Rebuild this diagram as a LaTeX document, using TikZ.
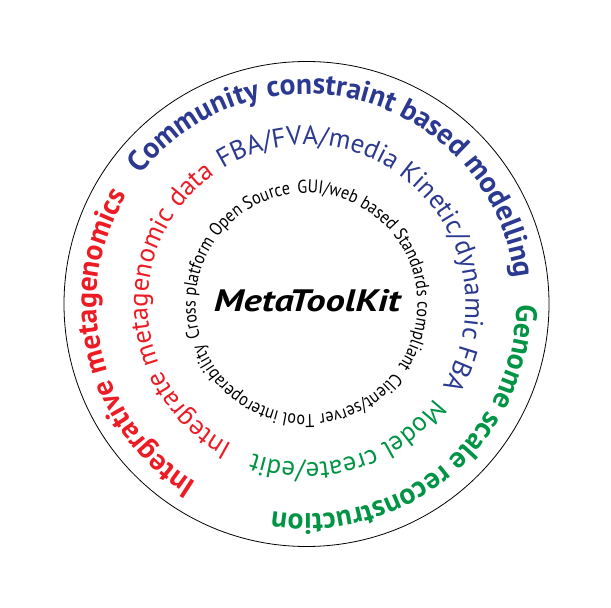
\documentclass[tikz,border=0pt]{standalone}
\usepackage{fontspec}
\setmainfont{PT Sans}
\newfontfamily\condfont[FakeStretch=0.87]{PT Sans}
\newfontfamily\widefont[FakeStretch=1.25]{PT Sans}
\usetikzlibrary{decorations.text}
\definecolor{mtkblue}{RGB}{43,57,144}
\definecolor{mtkred}{RGB}{237,28,36}
\definecolor{mtkgreen}{RGB}{0,148,68}
\tikzset{
  ring/.style={draw, circle, line width=.8pt, minimum size=485pt, inner sep=0pt},
  title/.style={font=\widefont\bfseries\itshape\fontsize{31}{31}\selectfont},
}
% outer, middle and inner ring fonts
\newcommand{\outerfont}{\bfseries\fontsize{29.5}{29.5}\selectfont}
\newcommand{\midfont}{\fontsize{26.8}{26.8}\selectfont}
\newcommand{\innerfont}{\condfont\fontsize{18.5}{18.5}\selectfont}
% text centred on a clockwise arc: radius, middle angle, format, text
\newcommand{\arclabel}[4]{%
  \path[decorate, decoration={text along path, text align=center, text={|#3|#4}}]
    (disk.center) ++({#2+100}:#1) arc[start angle={#2+100}, end angle={#2-100}, radius=#1];
}

\begin{document}
\begin{tikzpicture}[x=1pt,y=1pt]
  \useasboundingbox (0,0) rectangle (611,608);
  \node[ring] (disk) at (306.5,304) {};
  \node[title] (mtk) at (307,307) {MetaToolKit};

  % outer ring
  \arclabel{210}{74.5}{\outerfont\color{mtkblue}}{Community constraint based modelling}
  \arclabel{210}{-49.75}{\outerfont\color{mtkgreen}}{Genome scale reconstruction}
  \arclabel{210}{193.5}{\outerfont\color{mtkred}}{Integrative metagenomics}

  % middle ring
  \arclabel{159}{45.25}{\midfont\color{mtkblue}}{FBA/FVA/media Kinetic/dynamic FBA}
  \arclabel{159}{-73.15}{\midfont\color{mtkgreen}}{Model create/edit}
  \arclabel{159}{183.7}{\midfont\color{mtkred}}{Integrate metagenomic data}

  % inner ring
  \arclabel{111}{171.5}{\innerfont}{Cross platform}
  \arclabel{111}{120.75}{\innerfont}{Open Source}
  \arclabel{111}{67.75}{\innerfont}{GUI/web based}
  \arclabel{111}{2.25}{\innerfont}{Standards compliant}
  \arclabel{111}{-60.75}{\innerfont}{Client/server}
  \arclabel{111}{-122.5}{\innerfont}{Tool interoperability}
\end{tikzpicture}
\end{document}
